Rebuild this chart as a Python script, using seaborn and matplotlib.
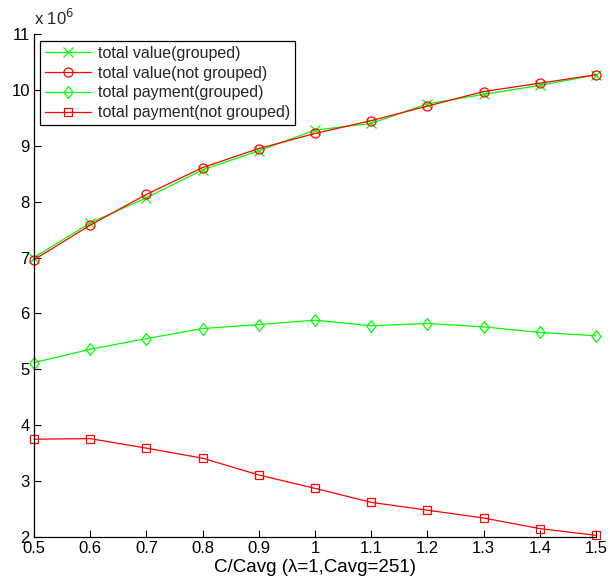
import matplotlib
matplotlib.use("Agg")
import matplotlib.pyplot as plt
import seaborn as sns
import pandas as pd

sns.set_theme(style="white")
plt.rcParams['font.family'] = ['Liberation Sans', 'DejaVu Sans']

x_vals = [0.5, 0.6, 0.7, 0.8, 0.9, 1.0, 1.1, 1.2, 1.3, 1.4, 1.5]
value_grouped = [7.00, 7.62, 8.07, 8.57, 8.91, 9.28, 9.40, 9.75, 9.92, 10.08, 10.27]
value_not_grouped = [6.96, 7.58, 8.13, 8.61, 8.95, 9.22, 9.45, 9.71, 9.97, 10.12, 10.27]
payment_grouped = [5.12, 5.36, 5.55, 5.73, 5.80, 5.88, 5.78, 5.82, 5.76, 5.66, 5.60]
payment_not_grouped = [3.75, 3.76, 3.59, 3.41, 3.11, 2.87, 2.62, 2.48, 2.34, 2.15, 2.03]

diamond = [(0, 1), (0.78, 0), (0, -1), (-0.78, 0), (0, 1)]

series = [
    ("total value(grouped)", value_grouped, (0, 1, 0), "x", 7),
    ("total value(not grouped)", value_not_grouped, (1, 0, 0), "o", 6.5),
    ("total payment(grouped)", payment_grouped, (0, 1, 0), diamond, 8.5),
    ("total payment(not grouped)", payment_not_grouped, (1, 0, 0), "s", 5.5),
]

fig = plt.figure(figsize=(6.1, 5.8), dpi=100)
ax = fig.add_axes([34/610, 43/580, (596-34)/610, (537-34)/580])

for label, vals, col, mk, ms in series:
    df = pd.DataFrame({"x": x_vals, "y": vals})
    kw = dict(markerfacecolor="none") if not (isinstance(mk, str) and mk == "x") else {}
    sns.lineplot(data=df, x="x", y="y", ax=ax, color=col, marker=mk,
                 markersize=ms, markeredgecolor=col, clip_on=False,
                 markeredgewidth=0.9, linewidth=0.9, label=label, **kw)

ax.set_xlim(0.5, 1.5)
ax.set_ylim(2, 11)
ax.set_xticks(x_vals)
ax.set_xticklabels(["0.5", "0.6", "0.7", "0.8", "0.9", "1", "1.1", "1.2", "1.3", "1.4", "1.5"])
ax.set_yticks(range(2, 12))
ax.set_yticklabels([str(v) for v in range(2, 12)])
ax.tick_params(direction="in", length=5, width=0.8, labelsize=12, colors="black",
               left=True, bottom=True, pad=3)
for s in ["top", "right"]:
    ax.spines[s].set_visible(False)
for s in ["left", "bottom"]:
    ax.spines[s].set_color("black")
    ax.spines[s].set_linewidth(0.9)
ax.set_xlabel("C/Cavg (λ=1,Cavg=251)", fontsize=13.5, color="black")
ax.xaxis.set_label_coords(0.5, -0.044)
ax.set_ylabel("")
ax.text(0.0, 1.012, "x 10$^{6}$", transform=ax.transAxes, fontsize=12, ha="left", va="bottom")

leg = ax.legend(loc="upper left", bbox_to_anchor=(0.011, 0.986), fontsize=11.5,
                frameon=True, fancybox=False, edgecolor="black", framealpha=1,
                handlelength=2.9, borderpad=0.3, labelspacing=0.3, handletextpad=0.4,
                borderaxespad=0)
leg.get_frame().set_linewidth(0.9)

fig.savefig("out.png", dpi=100, facecolor="white")
